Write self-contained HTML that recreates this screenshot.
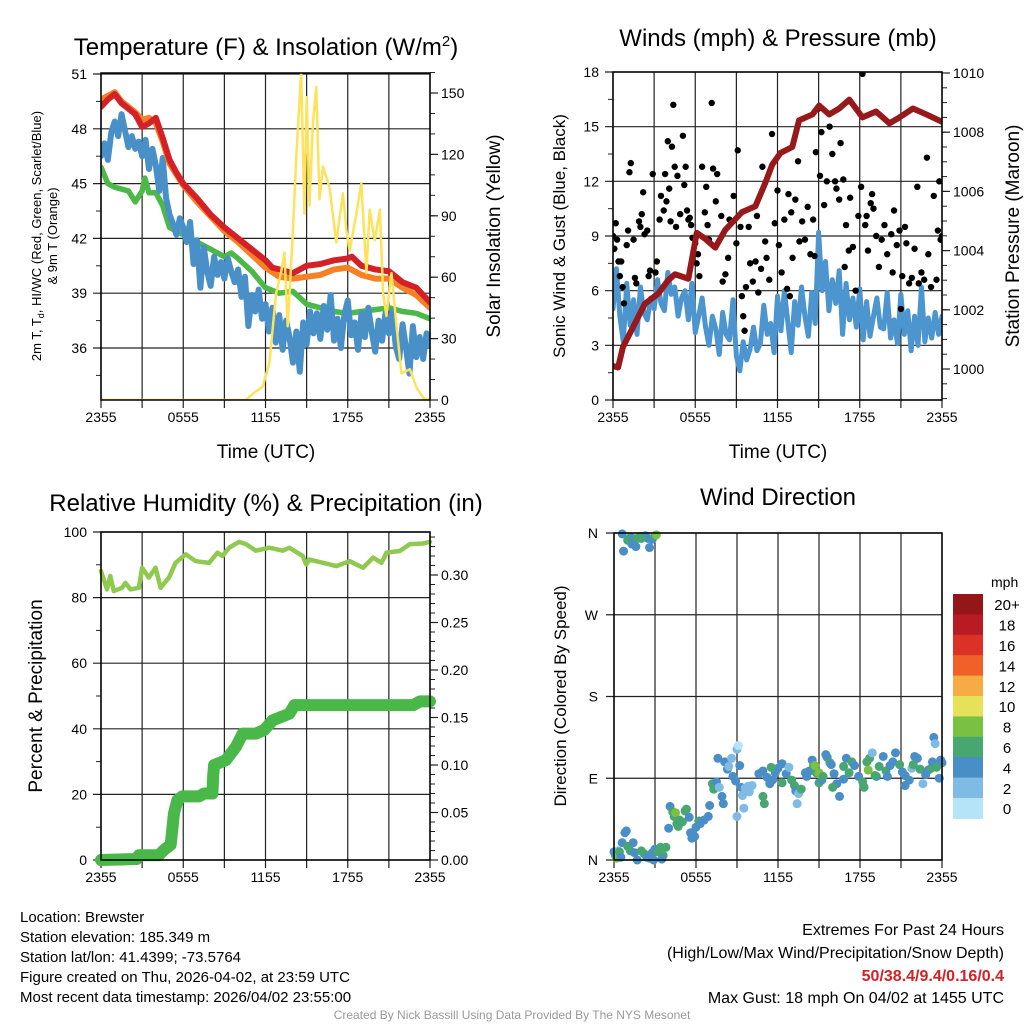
<!DOCTYPE html>
<html><head><meta charset="utf-8"><style>
html,body{margin:0;padding:0;background:#fff;}
svg{display:block;font-family:"Liberation Sans",Arial,sans-serif;}
</style></head><body>
<svg id="fig" width="1024" height="1024" viewBox="0 0 1024 1024" xmlns="http://www.w3.org/2000/svg">
<rect width="1024" height="1024" fill="#fff"/>
<text x="266" y="55" font-size="24" text-anchor="middle">Temperature (F) &amp; Insolation (W/m<tspan dy="-9" font-size="15">2</tspan><tspan dy="9">)</tspan></text>
<text x="778" y="46" font-size="24" text-anchor="middle">Winds (mph) &amp; Pressure (mb)</text>
<text x="266" y="511" font-size="24" text-anchor="middle">Relative Humidity (%) &amp; Precipitation (in)</text>
<text x="778" y="505" font-size="24" text-anchor="middle">Wind Direction</text>
<text x="266" y="458" font-size="19" text-anchor="middle">Time (UTC)</text>
<text x="778" y="458" font-size="19" text-anchor="middle">Time (UTC)</text>
<text transform="translate(41,236) rotate(-90)" font-size="13" text-anchor="middle">2m T, T<tspan font-size="9" dy="3">d</tspan><tspan dy="-3">, HI/WC (Red, Green, Scarlet/Blue)</tspan></text>
<text transform="translate(57,236) rotate(-90)" font-size="13" text-anchor="middle">&amp; 9m T (Orange)</text>
<text transform="translate(500,236) rotate(-90)" font-size="19" text-anchor="middle">Solar Insolation (Yellow)</text>
<text transform="translate(565,236) rotate(-90)" font-size="17" text-anchor="middle">Sonic Wind &amp; Gust (Blue, Black)</text>
<text transform="translate(1019,236) rotate(-90)" font-size="19" text-anchor="middle">Station Pressure (Maroon)</text>
<text transform="translate(42,696) rotate(-90)" font-size="19" text-anchor="middle">Percent &amp; Precipitation</text>
<text transform="translate(566,696) rotate(-90)" font-size="17" text-anchor="middle">Direction (Colored By Speed)</text>
<g font-size="15">
<text x="20" y="922">Location: Brewster</text>
<text x="20" y="942">Station elevation: 185.349 m</text>
<text x="20" y="962">Station lat/lon: 41.4399; -73.5764</text>
<text x="20" y="982">Figure created on Thu, 2026-04-02, at 23:59 UTC</text>
<text x="20" y="1002">Most recent data timestamp: 2026/04/02 23:55:00</text>
</g>
<g font-size="16" text-anchor="end">
<text x="1004" y="935">Extremes For Past 24 Hours</text>
<text x="1004" y="958">(High/Low/Max Wind/Precipitation/Snow Depth)</text>
<text x="1004" y="981" fill="#d42027" font-weight="bold">50/38.4/9.4/0.16/0.4</text>
<text x="1004" y="1003">Max Gust: 18 mph On 04/02 at 1455 UTC</text>
</g>
<text x="512" y="1019" font-size="12" fill="#999" text-anchor="middle">Created By Nick Bassill Using Data Provided By The NYS Mesonet</text>
<g id="layer"></g>
</svg>
<script>
// ---------- data ----------
const tempH = [0,0.5,1,1.5,2,2.5,3,3.5,4,4.5,5,5.5,6,7,8,9,10,11,12,12.5,13,14,15,16,17,18,18.3,19,20,21,22,23,24];
const tempRed = [49.2,49.6,49.9,49.4,49.1,48.8,48.1,48.3,48.6,47.5,46.3,45.6,45.0,44.2,43.3,42.6,42.0,41.4,40.8,40.4,40.3,40.1,40.5,40.6,40.8,40.9,41.0,40.5,40.3,40.2,39.6,39.3,38.5];
const orangeH = [0,0.5,1,1.5,2,2.5,3,3.5,4,4.5,5,5.5,6,7,8,9,10,11,12,13,14,15,16,17,18,19,20,21,22,23,24];
const temp9m = [49.6,49.8,50.0,49.5,49.2,48.9,48.5,48.6,48.3,47.3,46.1,45.5,44.9,44.0,43.2,42.4,41.8,41.1,40.4,39.9,39.8,39.9,40.0,40.3,40.4,40.0,39.8,39.8,39.3,38.9,38.2];
const greenH = [0,0.5,1,1.5,2,2.5,3,3.2,3.5,4,4.5,5,5.5,6,7,8,9,9.5,10,11,12,13,14,15,16,17,18,19,20,21,22,23,24];
const hiwc = [45.9,45.0,44.8,44.7,44.6,44.0,44.6,45.3,44.5,44.5,43.8,42.6,42.4,42.2,41.8,41.4,41.0,41.2,40.9,40.2,39.3,39.0,39.1,38.4,38.2,38.0,37.9,38.0,38.1,38.2,38.0,37.9,37.6];
const dewpt = [46.5,47.2,46.3,47.8,48.4,47.6,48.8,47.9,47.0,47.6,46.9,47.3,
46.5,47.4,45.8,46.9,46.0,44.6,46.4,44.2,43.3,42.8,42.2,43.1,
42.6,41.8,42.9,40.6,41.9,39.3,41.5,40.2,39.4,41.0,40.0,40.7,
39.8,40.9,40.2,39.6,40.3,38.8,39.9,37.2,38.9,38.0,39.2,37.6,
38.4,36.9,38.2,36.3,37.8,35.9,37.5,36.6,35.2,36.9,34.7,37.4,
36.2,38.0,36.8,37.9,36.5,38.3,37.0,38.9,36.4,37.6,36.0,37.8,
38.6,36.7,37.4,35.9,37.9,36.6,38.2,36.9,35.8,37.5,36.4,37.9,
36.8,38.0,36.1,35.4,37.3,36.0,34.6,37.2,35.5,36.6,35.4,36.8,36.2];
const solarH = [0,10.57,11.06,11.79,12.28,12.77,13.13,13.38,13.62,13.99,14.23,14.6,14.84,15.01,15.21,15.45,15.7,15.94,16.19,16.67,17.16,17.65,17.9,18.14,18.63,18.99,19.36,19.6,19.97,20.34,20.58,20.82,21.19,21.56,21.92,22.53,23.02,23.51,24];
const solar = [0,0,3,6.5,18,52,62,72,36,81,117,160,91,148,95,134,153,98,114,104,77,101,83,73,91,106,62,93,78,93,52,41,62,36,13,15,6,1,0];
const presH = [0,0.37,0.73,1.34,2.32,3.3,4.03,4.52,5.5,6.11,6.72,7.46,8.19,9.41,10.39,11.12,11.61,12.22,13.08,13.57,14.55,15.04,15.77,16.5,17.24,18.2,19.19,20.17,20.9,21.88,22.86,24];
const pressure = [1000.1,1000.05,1000.75,1001.3,1002.2,1002.55,1003.0,1003.2,1003.05,1004.6,1004.4,1004.1,1004.7,1005.3,1005.5,1006.3,1006.9,1007.3,1007.5,1008.4,1008.6,1008.9,1008.6,1008.8,1009.1,1008.5,1008.7,1008.3,1008.5,1008.8,1008.6,1008.35];
const wind = [5.0,7.2,4.6,3.2,6.4,4.1,5.5,3.6,6.2,4.8,4.4,5.6,
5.0,6.6,5.3,4.9,7.0,5.8,6.2,4.6,5.6,6.0,4.4,6.4,
3.7,4.6,5.6,4.0,3.0,4.6,3.9,2.5,4.8,3.6,3.3,5.5,
2.4,1.6,3.2,2.2,2.8,4.0,2.7,3.1,5.2,3.6,4.2,2.6,
5.7,3.8,6.0,4.3,2.6,5.4,4.1,6.2,4.6,3.5,5.9,4.2,
9.2,6.0,7.6,4.9,6.6,5.3,7.1,3.6,6.4,4.4,5.6,4.0,
6.1,3.3,5.4,3.5,4.6,5.6,4.0,3.9,5.9,3.4,4.4,3.1,
5.8,3.6,4.9,2.7,4.6,3.0,6.2,3.2,4.5,3.4,4.8,3.6,4.6];
const gustH = [0,0.1,0.2,0.3,0.4,0.5,0.6,0.7,0.8,1.0,1.1,1.2,1.3,1.5,1.6,1.7,1.9,2.0,2.1,2.2,2.3,2.5,2.6,2.7,2.9,3.1,3.2,3.4,3.5,3.7,3.8,3.9,4.0,4.1,4.2,4.3,4.4,4.5,4.6,4.7,4.9,5.1,5.2,5.3,5.4,5.5,5.6,5.7,6.0,6.1,6.2,6.3,6.5,6.7,6.8,6.9,7.0,7.2,7.3,7.5,7.6,7.9,8.0,8.2,8.4,8.5,8.8,9.0,9.1,9.3,9.4,9.5,9.6,9.7,9.9,10.0,10.2,10.4,10.6,10.8,10.9,11.1,11.2,11.4,11.6,11.8,12.0,12.1,12.3,12.5,12.7,12.8,13.0,13.1,13.3,13.6,13.8,14.0,14.2,14.4,14.6,14.7,14.8,15.0,15.1,15.2,15.4,15.6,15.8,16.0,16.2,16.3,16.5,16.6,16.8,17.0,17.2,17.3,17.5,17.7,17.9,18.1,18.2,18.4,18.5,18.6,18.8,19.0,19.2,19.4,19.6,19.8,20.0,20.3,20.4,20.5,20.7,20.9,21.1,21.3,21.4,21.6,21.8,22.0,22.2,22.3,22.5,22.7,22.9,23.0,23.2,23.4,23.6,23.7,23.9,24,23.8,5.8,13.5,12.9,21.0,10.5,18.9,16.9];
const gustV = [9,8.3,9.7,8.8,7.6,6.8,7.6,6.2,5.3,8.5,9.3,12.5,13,8.8,6.7,6.4,9.8,9.5,10.2,11.4,9.1,9.3,6.8,7.1,12.4,7.0,7.6,9.9,11.2,10.4,12.4,10.9,14.2,11.6,9.8,13.9,16.2,12.8,9.5,12.3,10.2,14.5,11.8,12.8,10.4,9.9,10.0,9.6,8.6,7.5,8.0,6.8,12.8,10.3,11.7,9.6,8.8,16.3,12.7,10.9,12.4,10.1,6.5,6.9,7.8,9.9,11.2,8.6,13.7,9.5,5.7,4.6,3.8,6.2,9.5,7.5,6.5,7.6,5.9,7.2,12.8,8.7,7.8,6.6,14.6,9.7,11.5,8.5,7.0,9.9,6.1,11.3,10.3,7.8,11.0,8.7,9.8,8.8,10.6,8.0,9.9,7.9,13.6,16.0,12.3,14.7,10.7,12.0,15.0,13.5,12.0,11.6,11.0,14.1,12.1,9.6,8.2,11.1,8.4,6.0,10.1,11.7,17.9,9.6,10.1,8.2,10.8,10.5,9.0,7.3,8.8,9.6,8.0,9.1,7.0,10.4,8.5,9.3,6.8,9.5,8.6,6.4,6.7,8.3,11.7,6.4,7.0,6.6,13.3,8.0,6.2,11.2,6.6,9.3,8.8,9.0,12.0,8.9,13.1,5.7,5.0,10.1,11.3,7.3];
const rhH = [0,0.44,0.68,0.93,1.54,1.78,2.15,2.76,3.0,3.49,3.98,4.35,4.96,5.44,6.18,6.91,7.89,8.5,8.86,9.35,10.08,10.57,11.3,12.28,13.26,13.74,14.72,14.97,15.21,16.19,17.16,18.14,19.12,19.85,20.46,20.83,21.8,22.53,23.51,24];
const rh = [88.1,82.5,86.6,82.0,83.0,84.5,82.5,83.0,89.1,86.1,89.1,83.0,86.1,90.6,93.2,91.1,90.6,93.7,92.7,95.2,97.0,96.3,94.3,95.2,94.3,95.2,92.7,90.1,91.6,90.6,89.6,91.1,89.1,92.2,90.6,93.7,94.2,96.3,96.5,97.0];
const precipH = [0,2.61,2.76,4.22,4.59,5.08,5.2,5.32,5.57,5.93,7.15,7.52,8.13,8.18,8.25,9.1,9.84,10.33,11.3,11.91,12.52,13.74,14.11,22.78,23.27,24];
const precip = [0,0.001,0.005,0.005,0.0105,0.016,0.032,0.049,0.063,0.067,0.067,0.07,0.07,0.088,0.1,0.105,0.119,0.133,0.133,0.137,0.147,0.154,0.163,0.163,0.167,0.167];
const dirH = [0.6,0.7,1.0,1.2,1.4,1.3,1.7,1.9,2.1,2.3,2.5,2.6,2.8,3.0,3.1,1.6,2.0,
0,0.1,0.2,0.3,0.4,0.5,0.6,0.8,0.9,1.0,1.2,1.4,1.5,1.7,2.0,2.2,2.4,2.6,2.8,3.0,3.2,3.4,3.6,3.8,2.9,3.5,
4.0,4.1,4.3,4.4,4.5,4.6,4.7,4.8,5.0,5.2,5.3,5.5,5.6,5.7,5.9,6.0,6.2,6.3,6.6,6.9,7.0,7.2,7.3,7.5,7.7,7.9,8.0,7.6,8.1,8.3,8.4,8.6,8.7,8.9,9.0,9.1,9.2,9.3,9.4,9.6,9.8,10.1,9.5,9.9,9.0,
10.6,10.9,11.2,11.4,10.9,11.0,11.6,11.8,12.0,12.3,12.6,12.8,13.0,13.2,13.3,13.5,13.4,13.7,14.0,14.1,14.3,14.6,14.5,14.8,15.0,15.2,15.5,15.6,15.8,15.9,16.1,16.3,16.5,16.8,17.0,17.2,17.4,17.6,17.9,18.2,18.3,18.5,18.7,18.9,19.2,19.4,19.7,19.9,20.0,20.2,20.4,20.6,20.9,21.1,21.3,21.3,21.6,21.8,22.0,22.2,22.4,22.6,22.8,23.0,23.2,23.3,23.4,23.5,23.8,23.9,24.0,11.5,12.3,14.7,15.0,16.8,18.6,19.1,21.9,23.6,15.3,16.0];
const dirDeg = [359,340,352,355,354,348,354,356,356,357,354,344,353,357,358,345,354,
9,5,2,10,9,3,19,30,32,15,10,19,8,0,10,7,3,2,8,12,9,14,5,14,0,1,
35,59,53,48,52,40,37,44,42,54,56,47,30,24,26,36,43,40,44,48,60,84,78,86,80,70,62,112,108,100,103,112,92,87,122,126,104,80,71,79,81,82,57,75,48,
95,98,91,84,70,62,88,96,101,106,95,102,88,82,76,73,62,78,96,92,98,104,110,96,85,88,116,113,107,105,95,84,70,89,112,96,108,104,92,86,80,108,112,118,92,103,114,98,92,104,108,118,105,97,82,93,88,101,114,112,100,84,94,99,101,108,135,128,90,110,107,102,85,104,96,103,99,93,105,102,92,80];
const dirSpd = [4,4,6,6,4,4,6,6,4,4,4,4,4,6,8,4,6,
4,4,8,2,6,4,4,4,4,6,6,4,4,4,6,6,4,4,4,4,6,6,6,6,4,4,
4,4,6,6,8,6,6,6,6,6,6,4,4,4,4,4,6,4,4,4,4,6,6,4,2,4,4,4,4,4,2,2,4,4,2,0,4,4,2,2,2,2,2,2,2,
4,4,4,4,6,6,4,4,4,4,4,2,6,6,4,2,2,6,4,4,4,6,4,6,6,4,4,4,6,4,4,4,4,4,4,6,6,4,4,6,6,6,6,2,4,6,4,6,4,4,4,4,6,4,4,4,4,2,4,4,6,2,4,4,6,4,4,2,4,4,4,6,6,8,8,6,8,6,6,6,6,6];
const speedColors = ['#b5e3f7','#7fbbe4','#4a8ec8','#48a670','#7ac143','#e6e15b','#f6ab43','#ef6126','#dc3127','#b81b23','#931719'];
const speedLabels = ['0','2','4','6','8','10','12','14','16','18','20+'];
const timeLabels = ['2355','0555','1155','1755','2355'];

// ---------- helpers ----------
const NS='http://www.w3.org/2000/svg';
const layer=document.getElementById('layer');
function mk(tag,attrs,parent){const e=document.createElementNS(NS,tag);for(const k in attrs)e.setAttribute(k,attrs[k]);(parent||layer).appendChild(e);return e;}
function lin(d0,d1,r0,r1){return v=>r0+(v-d0)/(d1-d0)*(r1-r0);}
function pathD(xs,ys,fx,fy){let s='';for(let i=0;i<xs.length;i++){s+=(i?'L':'M')+fx(xs[i]).toFixed(2)+','+fy(ys[i]).toFixed(2);}return s;}
function seqH(n,step){const a=[];for(let i=0;i<n;i++)a.push(i*step);return a;}

function frame(L,R,T,B,name){
  const g=mk('g',{});
  
  
  return g;
}
function vgrid(g,L,R,T,B,fx,labels){
  for(let h=0;h<=24;h+=3){
    const x=fx(h);
    const ln=mk('line',{x1:x,x2:x,y1:T,y2:B+8,stroke:'#222','stroke-width':1.2},g);
    
    
  }
  for(let i=0;i<labels.length;i++){
    const t=mk('text',{x:fx(i*6),y:B+22,'font-size':14,'text-anchor':'middle'},g);
    t.textContent=labels[i];
    
    
  }
}
function hgrid(g,L,R,fy,vals,labs,minor,labelX){
  vals.forEach((v,i)=>{
    const y=fy(v);
    const ln=mk('line',{x1:L-8,x2:R,y1:y,y2:y,stroke:'#222','stroke-width':1.2},g);
    
    
    const t=mk('text',{x:labelX,y:y+5,'font-size':14,'text-anchor':'end'},g);
    t.textContent=labs[i];
    
    
  });
  minor.forEach(v=>{const y=fy(v);const m=mk('line',{x1:L-5,x2:L,y1:y,y2:y,stroke:'#222','stroke-width':1},g);
    
    });
}
function rightAxis(g,R,fy,vals,labs,minor){
  vals.forEach((v,i)=>{
    const y=fy(v);
    const m=mk('line',{x1:R,x2:R+8,y1:y,y2:y,stroke:'#222','stroke-width':1.2},g);
    
    
    const t=mk('text',{x:R+11,y:y+5,'font-size':14},g);
    t.textContent=labs[i];
    
    
  });
  minor.forEach(v=>{const y=fy(v);const m=mk('line',{x1:R,x2:R+5,y1:y,y2:y,stroke:'#222','stroke-width':1},g);
    
    });
}
function border(g,L,R,T,B){
  const r=mk('rect',{x:L,y:T,width:R-L,height:B-T,fill:'none',stroke:'#000','stroke-width':1.5},g);
  
  
}
function range(a,b,s){const r=[];for(let v=a;v<=b+1e-9;v+=s)r.push(+v.toFixed(4));return r;}

// ---------- Panel 1: temperature ----------
(function(){
  const L=101,R=430,T=73,B=400;
  const fx=lin(0,24,L,R), fy=lin(36,51,348,74), fs=lin(0,150,400,93);
  const g=frame(L,R,T,B,'temperature-panel');
  const clip=mk('clipPath',{id:'c1'},g);mk('rect',{x:L,y:T,width:R-L,height:B-T},clip);
  vgrid(g,L,R,T,B,fx,timeLabels);
  hgrid(g,L,R,fy,[36,39,42,45,48,51],['36','39','42','45','48','51'],range(34.5,49.5,3),87);
  rightAxis(g,R,fs,[0,30,60,90,120,150],['0','30','60','90','120','150'],range(10,160,10));
  const pg=mk('g',{'clip-path':'url(#c1)'},g);
  let p=mk('path',{d:pathD(greenH,hiwc,fx,fy),fill:'none',stroke:'#4cb848','stroke-width':5.5,'stroke-linejoin':'round','stroke-linecap':'round'},pg);
  
  p=mk('path',{d:pathD(seqH(dewpt.length,0.25),dewpt,fx,fy),fill:'none',stroke:'#4a90c8','stroke-width':6,'stroke-linejoin':'round','stroke-linecap':'round'},pg);
  
  p=mk('path',{d:pathD(orangeH,temp9m,fx,fy),fill:'none',stroke:'#f58025','stroke-width':6,'stroke-linejoin':'round','stroke-linecap':'round'},pg);
  
  p=mk('path',{d:pathD(tempH,tempRed,fx,fy),fill:'none',stroke:'#d42027','stroke-width':6,'stroke-linejoin':'round','stroke-linecap':'round'},pg);
  
  p=mk('path',{d:pathD(solarH,solar,fx,fs),fill:'none',stroke:'#fde25a','stroke-width':2.5,'stroke-linejoin':'round'},pg);
  
  border(g,L,R,T,B);
})();

// ---------- Panel 2: winds ----------
(function(){
  const L=613,R=942,T=72,B=400;
  const fx=lin(0,24,L,R), fy=lin(0,18,400,72), fp=lin(1000,1010,369,73);
  const g=frame(L,R,T,B,'winds-panel');
  const clip=mk('clipPath',{id:'c2'},g);mk('rect',{x:L,y:T,width:R-L,height:B-T},clip);
  vgrid(g,L,R,T,B,fx,timeLabels);
  hgrid(g,L,R,fy,[0,3,6,9,12,15,18],['0','3','6','9','12','15','18'],range(1.5,16.5,3),599);
  rightAxis(g,R,fp,[1000,1002,1004,1006,1008,1010],['1000','1002','1004','1006','1008','1010'],range(999,1009.5,0.5));
  const pg=mk('g',{'clip-path':'url(#c2)'},g);
  let p=mk('path',{d:pathD(seqH(wind.length,0.25),wind,fx,fy),fill:'none',stroke:'#4d95cf','stroke-width':5,'stroke-linejoin':'round','stroke-linecap':'round'},pg);
  
  for(let i=0;i<gustH.length;i++){
    const c=mk('circle',{cx:fx(gustH[i]),cy:fy(gustV[i]),r:3.2,fill:'#000'},pg);
    
    
  }
  p=mk('path',{d:pathD(presH,pressure,fx,fp),fill:'none',stroke:'#97191b','stroke-width':6,'stroke-linejoin':'round','stroke-linecap':'round'},pg);
  
  border(g,L,R,T,B);
})();

// ---------- Panel 3: RH & precip ----------
(function(){
  const L=101,R=430,T=532,B=860;
  const fx=lin(0,24,L,R), fy=lin(0,100,860,532), fp=lin(0,0.3,860,575);
  const g=frame(L,R,T,B,'humidity-panel');
  const clip=mk('clipPath',{id:'c3'},g);mk('rect',{x:L-8,y:T,width:R-L+16,height:B-T+8},clip);
  vgrid(g,L,R,T,B,fx,timeLabels);
  hgrid(g,L,R,fy,[0,20,40,60,80,100],['0','20','40','60','80','100'],range(10,90,20),87);
  rightAxis(g,R,fp,[0,0.05,0.1,0.15,0.2,0.25,0.3],['0.00','0.05','0.10','0.15','0.20','0.25','0.30'],range(0.01,0.34,0.01));
  const pg=mk('g',{'clip-path':'url(#c3)'},g);
  let p=mk('path',{d:pathD(rhH,rh,fx,fy),fill:'none',stroke:'#8fc94f','stroke-width':4.5,'stroke-linejoin':'round','stroke-linecap':'round'},pg);
  
  p=mk('path',{d:pathD(precipH,precip,fx,fp),fill:'none',stroke:'#4ab848','stroke-width':12,'stroke-linejoin':'round','stroke-linecap':'round'},pg);
  
  border(g,L,R,T,B);
})();

// ---------- Panel 4: wind direction ----------
(function(){
  const L=614,R=942,T=533,B=860;
  const fx=lin(0,24,L,R), fy=lin(0,360,860,533);
  const g=frame(L,R,T,B,'wind-direction-panel');
  vgrid(g,L,R,T,B,fx,timeLabels);
  hgrid(g,L,R,fy,[0,90,180,270,360],['N','E','S','W','N'],[],598);
  for(let i=0;i<dirH.length;i++){
    const ci=Math.min(10,Math.floor(dirSpd[i]/2));
    const c=mk('circle',{cx:fx(dirH[i]),cy:fy(dirDeg[i]),r:4.5,fill:speedColors[ci]},g);
    
    
  }
  border(g,L,R,T,B);
  const cb=mk('g',{},g);
  
  
  const bt=594, bh=20.4;
  const ttl=mk('text',{x:991,y:587,'font-size':14},cb);ttl.textContent='mph';
  
  for(let k=0;k<speedColors.length;k++){
    const idx=speedColors.length-1-k;
    const r=mk('rect',{x:953,y:bt+k*bh,width:30,height:bh+0.5,fill:speedColors[idx]},cb);
    
    const t=mk('text',{x:1007,y:bt+k*bh+bh/2+6,'font-size':15,'text-anchor':'middle'},cb);
    t.textContent=speedLabels[idx];
    
  }
})();
</script>
</body></html>
